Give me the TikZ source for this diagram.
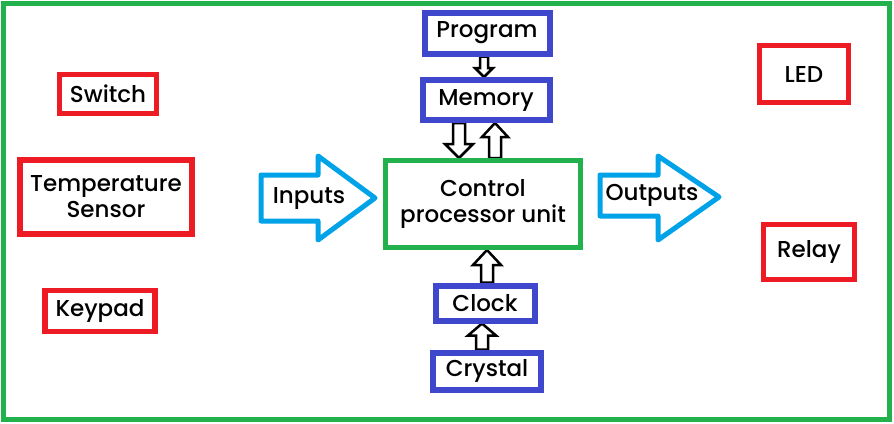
\documentclass[tikz,border=0pt]{standalone}
\usepackage{fontspec}
\setmainfont{Poppins}[BoldFont={* Medium}]
\usetikzlibrary{calc}
\pgfdeclarelayer{background}
\pgfsetlayers{background,main}
\definecolor{pgreen}{RGB}{34,177,76}
\definecolor{pred}{RGB}{237,28,36}
\definecolor{pblue}{RGB}{63,72,204}
\definecolor{pcyan}{RGB}{0,162,232}
\tikzstyle{txt} = [font=\fontsize{23}{26}\selectfont\bfseries, align=center, inner sep=0pt]
\tikzstyle{device} = [txt, draw=pred, line width=5.5pt, fill=white]
\tikzstyle{unit} = [txt, draw=pblue, line width=6pt, fill=white]
\tikzstyle{core} = [txt, draw=pgreen, line width=5pt, fill=white]
\tikzstyle{hollow} = [draw=black, line width=2.5pt, fill=white, line join=miter]
\tikzstyle{flow} = [draw=pcyan, line width=5pt, fill=white, line join=round]

\begin{document}
\begin{tikzpicture}[x=1pt, y=-1pt]
				\useasboundingbox (0,0) rectangle (894,423);
				\draw[pgreen, line width=5pt] (3,3) rectangle (889,419);

				% input devices
				\node[device, minimum width=97pt, minimum height=39pt] (sw) at (108,94) {Switch};
				\node[device, minimum width=172pt, minimum height=74pt] (temp) at (106,197) {Temperature\\Sensor};
				\node[device, minimum width=110pt, minimum height=41pt] (key) at (100,311) {Keypad};
				% output devices
				\node[device, minimum width=89pt, minimum height=57pt] (led) at (804,74) {LED};
				\node[device, minimum width=91pt, minimum height=55pt] (relay) at (809,252) {Relay};

				% processor and its parts
				\node[core, minimum width=195pt, minimum height=87pt] (cpu) at (483,204) {Control\\processor unit};
				\node[unit, minimum width=125pt, minimum height=41pt] (prog) at (487,33) {Program};
				\node[unit, minimum width=127pt, minimum height=40pt] (mem) at (486,100) {Memory};
				\node[unit, minimum width=99pt, minimum height=35pt] (clk) at (485,303) {Clock};
				\node[unit, minimum width=108pt, minimum height=37pt] (xtal) at (487,371) {Crystal};

				% big in/out arrows
				\draw[flow] (261,175) -- (318,175) -- (318,156) -- (375,198) -- (318,240) -- (318,221) -- (261,221) -- cycle;
				\node[txt] (inp) at (309,199) {Inputs};
				\draw[flow] (600,175) -- (658,175) -- (658,156) -- (719,197) -- (658,240) -- (658,216) -- (600,216) -- cycle;
				\node[txt] (outp) at (652,195) {Outputs};

				\begin{pgfonlayer}{background}
				\foreach \src/\dst/\dx/\sw/\hw/\hl in {prog.south/mem.north/-3/4pt/9pt/9pt,
						mem.south/cpu.north/-27/6pt/14pt/14pt, cpu.north/mem.south/12/6pt/13pt/14pt,
						clk.north/cpu.south/2/6pt/14pt/15pt, xtal.north/clk.south/-5/6pt/14pt/12pt}
				\draw[hollow] let \p1=($(\src)+(\dx,0)$), \p2=(\dst), \n1={sign(\y2-\y1)} in
					(\x1-\sw,\y1) -- (\x1-\sw,\y2-\n1*\hl) -- (\x1-\hw,\y2-\n1*\hl) -- (\x1,\y2)
					-- (\x1+\hw,\y2-\n1*\hl) -- (\x1+\sw,\y2-\n1*\hl) -- (\x1+\sw,\y1) -- cycle;
				\end{pgfonlayer}
			\end{tikzpicture}
\end{document}
